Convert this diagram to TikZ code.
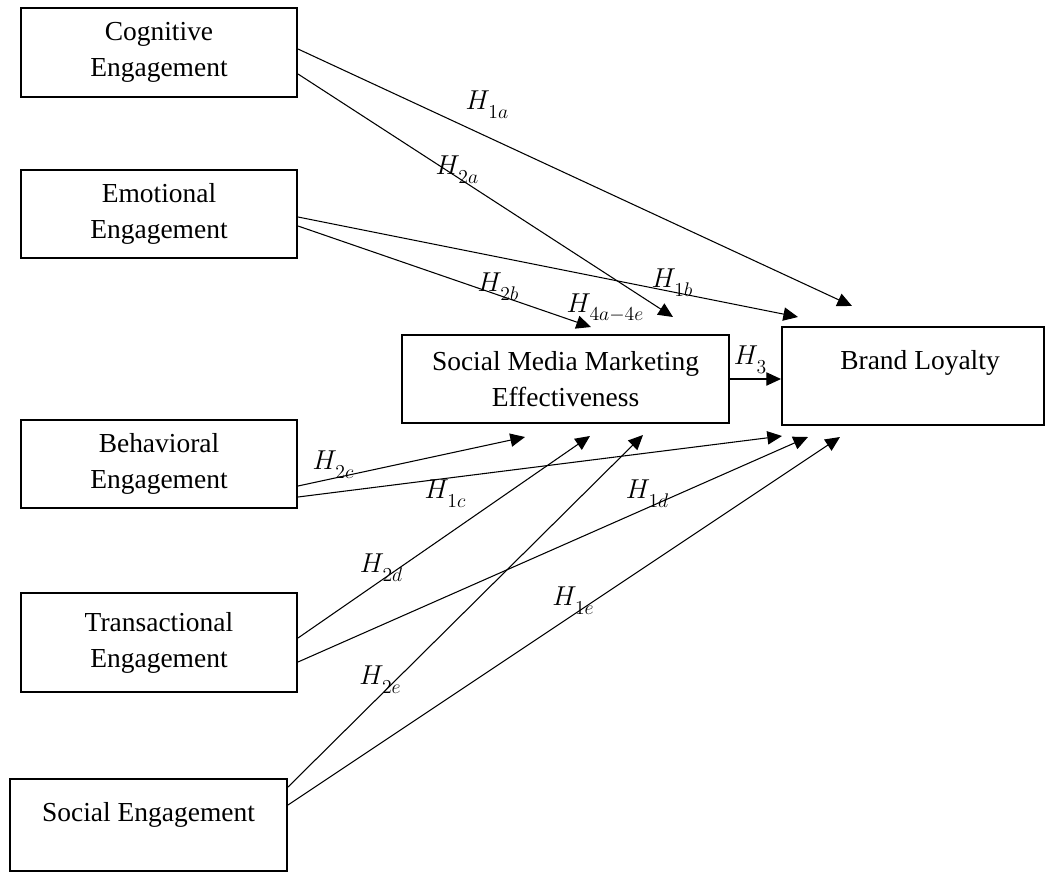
\RequirePackage{fix-cm}
\documentclass[tikz,border=0pt]{standalone}
\usepackage{fontspec}
\setmainfont{Liberation Serif}
\usetikzlibrary{arrows.meta,calc}
\newcommand{\Hsub}[1]{$H\mkern-1mu$\raisebox{-0.32em}{\fontsize{14.8}{15}\selectfont$#1$}}
\tikzset{
  box/.style={draw, line width=1.5pt, inner sep=0pt, align=center,
    font=\fontsize{20.6}{27}\selectfont},
  arr/.style={line width=0.8pt, -{Triangle[length=11pt,width=10pt]}},
  hyp/.style={inner sep=0pt, font=\fontsize{20.5}{24}\selectfont},
}
\begin{document}
\begin{tikzpicture}[x=0.75pt,y=-0.75pt]
\useasboundingbox (0,0) rectangle (1046,875);
% boxes
\node[box, minimum width=207pt, minimum height=66.75pt] (cog) at (159,52.5) {Cognitive\\Engagement};
\node[box, minimum width=207pt, minimum height=66pt] (emo) at (159,214) {Emotional\\Engagement};
\node[box, minimum width=207pt, minimum height=66pt] (beh) at (159,464) {Behavioral\\Engagement};
\node[box, minimum width=207pt, minimum height=74.25pt] (tra) at (159,642.5) {Transactional\\Engagement};
\node[box, minimum width=207.75pt, minimum height=69pt,
  label={[font=\fontsize{20.6}{27}\selectfont, yshift=7.5pt]center:Social Engagement}] (soc) at (148.5,825) {};
\node[box, minimum width=245.25pt, minimum height=66pt] (smm) at (565.5,379) {Social Media Marketing\\Effectiveness};
\node[box, minimum width=196.5pt, minimum height=73.5pt,
  label={[font=\fontsize{20.6}{27}\selectfont, xshift=5.25pt, yshift=9.75pt]center:Brand Loyalty}] (bl) at (913,376) {};
% arrow tips
\coordinate (t1a) at (852,306);
\coordinate (t2a) at (673,317);
\coordinate (t1b) at (798,317);
\coordinate (t2b) at (591,327);
\coordinate (t2c) at (525,437);
\coordinate (t1c) at (782,436);
\coordinate (t2d) at (590,436);
\coordinate (t1d) at (808,437);
\coordinate (t2e) at (643,435);
\coordinate (t1e) at (840,437);
% connectors
\draw[arr] ($(cog.east)+(0,-3.5)$) -- (t1a);
\draw[arr] ($(cog.east)+(0,21.5)$) -- (t2a);
\draw[arr] ($(emo.east)+(0,3)$) -- (t1b);
\draw[arr] ($(emo.east)+(0,12)$) -- (t2b);
\draw[arr] (smm.east) -- (smm.east -| bl.west);
\draw[arr] ($(beh.east)+(0,22)$) -- (t2c);
\draw[arr] ($(beh.east)+(0,33)$) -- (t1c);
\draw[arr] ($(tra.east)+(0,-4.5)$) -- (t2d);
\draw[arr] ($(tra.east)+(0,19.5)$) -- (t1d);
\draw[arr] ($(soc.east)+(0,-38)$) -- (t2e);
\draw[arr] ($(soc.east)+(0,-20)$) -- (t1e);
% labels
\node[hyp] (l1a) at (487,105) {\Hsub{1a}};
\node[hyp] (l2a) at (457,170) {\Hsub{2a}};
\node[hyp] (l2b) at (498,287) {\Hsub{2b}};
\node[hyp] (l4) at (605,308) {\Hsub{4a{-}4e}};
\node[hyp] (l1b) at (672,283) {\Hsub{1b}};
\node[hyp] (l3) at (750,360) {\Hsub{3}};
\node[hyp] (l2c) at (333,465) {\Hsub{2c}};
\node[hyp] (l1c) at (445,494) {\Hsub{1c}};
\node[hyp] (l1d) at (647,494) {\Hsub{1d}};
\node[hyp] (l2d) at (381,568) {\Hsub{2d}};
\node[hyp] (l2e) at (380,680) {\Hsub{2e}};
\node[hyp] (l1e) at (573,601) {\Hsub{1e}};
\end{tikzpicture}
\end{document}
